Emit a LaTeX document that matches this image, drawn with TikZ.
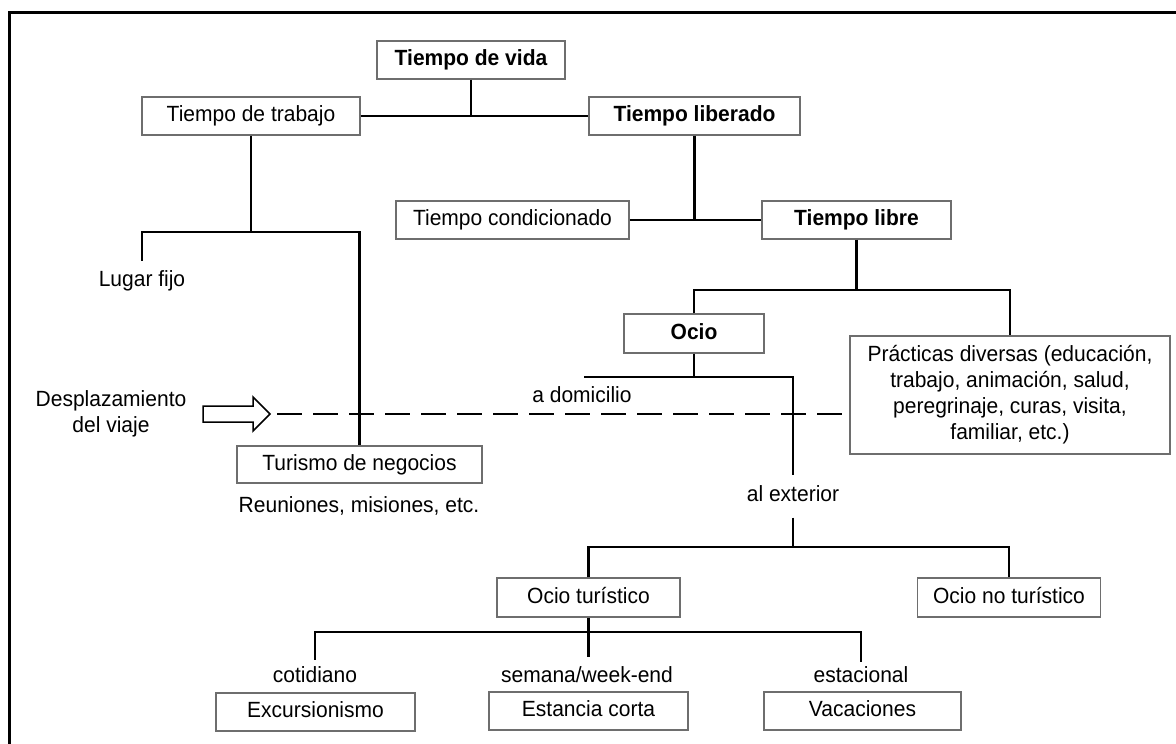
\documentclass[tikz,border=0pt]{standalone}
\usepackage{fontspec}
\setmainfont{Liberation Sans}[FakeStretch=0.955]
\definecolor{boxgray}{RGB}{110,110,110}
\begin{document}
\begin{tikzpicture}[x=1pt,y=-1pt,
  txt/.style={inner sep=0pt, text height=16pt, text depth=4.6pt, font=\fontsize{22}{26}\selectfont},
  box/.style={txt, draw=boxgray, line width=1.3pt},
  bbox/.style={box, font=\fontsize{22}{26}\selectfont\bfseries},
  conn/.style={line width=2.8pt, black},
  dashconn/.style={conn, dash pattern=on 25pt off 11pt}]
\useasboundingbox (0,0) rectangle (1176,744);
% frame
\draw[line width=3pt] (9,770) -- (9,12) -- (1200,12);
% nodes
\node[bbox, minimum width=188pt, minimum height=38pt] (vida) at (471,60) {Tiempo de vida};
\node[box, minimum width=218pt, minimum height=38pt] (trabajo) at (251,116) {Tiempo de trabajo};
\node[bbox, minimum width=211pt, minimum height=38pt] (liberado) at (694.5,116) {Tiempo liberado};
\node[box, minimum width=233pt, minimum height=38pt] (condic) at (512.5,220) {Tiempo condicionado};
\node[bbox, minimum width=189pt, minimum height=38pt] (libre) at (856.5,220) {Tiempo libre};
\node[txt] (lugar) at (142,281) {Lugar fijo};
\node[bbox, minimum width=140pt, minimum height=39pt] (ocio) at (694,333.5) {Ocio};
\node[box, align=center, text height=, text depth=, minimum width=320pt, minimum height=118pt] (practicas) at (1010,395) {Prácticas diversas (educación,\\trabajo, animación, salud,\\peregrinaje, curas, visita,\\familiar, etc.)};
\node[txt, align=center, text height=, text depth=] (despl) at (111,414) {Desplazamiento\\del viaje};
\node[txt] (adom) at (582,397) {a domicilio};
\node[txt] (alext) at (793,496) {al exterior};
\node[box, minimum width=245pt, minimum height=37pt] (turismo) at (359.5,464.5) {Turismo de negocios};
\node[txt] (reun) at (359,507) {Reuniones, misiones, etc.};
\node[box, minimum width=183pt, minimum height=39pt] (ociotur) at (588.5,597.5) {Ocio turístico};
\node[box, minimum width=183pt, minimum height=39pt] (ocionotur) at (1009,597.5) {Ocio no turístico};
\node[txt] (cotid) at (315,677) {cotidiano};
\node[txt] (semana) at (587,677) {semana/week-end};
\node[txt] (estac) at (861,677) {estacional};
\node[box, minimum width=199pt, minimum height=38pt] (excur) at (315.5,712) {Excursionismo};
\node[box, minimum width=199pt, minimum height=38pt] (estancia) at (588.5,711) {Estancia corta};
\node[box, minimum width=197pt, minimum height=38pt] (vacac) at (862.5,711) {Vacaciones};
% arrow
\draw[line width=1.5pt, line join=miter] (203,406) -- (253,406) -- (253,397) -- (270,414) -- (253,431) -- (253,422) -- (203,422) -- cycle;
\coordinate (tip) at (277,414);
\coordinate (domL) at (584,377);
% connectors
\draw[conn] (trabajo.east) -- (liberado.west);
\draw[conn] (vida.south) -- (vida.south |- trabajo.east);
\draw[conn] (condic.east) -- (libre.west);
\draw[conn] (liberado.south) -- (liberado.south |- libre.west);
\draw[conn] (trabajo.south) -- (trabajo.south |- 0,232);
\draw[conn] ([yshift=10pt]lugar.north) |- (turismo.north |- 0,232) -- (turismo.north);
\draw[conn] (libre.south) -- (libre.south |- 0,290);
\draw[conn] (ocio.north) |- (practicas.north |- 0,290) -- (practicas.north);
\draw[conn] (ocio.south) -- (ocio.south |- domL);
\draw[conn] (domL) -- (alext.north |- domL) -- ([yshift=11pt]alext.north);
\draw[conn] ([yshift=-11pt]alext.south) -- (alext.south |- 0,547);
\draw[conn] (ociotur.north) |- (ocionotur.north |- 0,547) -- (ocionotur.north);
\draw[conn] (ociotur.south) -- (ociotur.south |- 0,657);
\draw[conn] ([yshift=7pt]cotid.north) |- (estac.north |- 0,632) -- ([yshift=5pt]estac.north);
\draw[dashconn] (tip) -- (practicas.west |- tip);
\end{tikzpicture}
\end{document}
